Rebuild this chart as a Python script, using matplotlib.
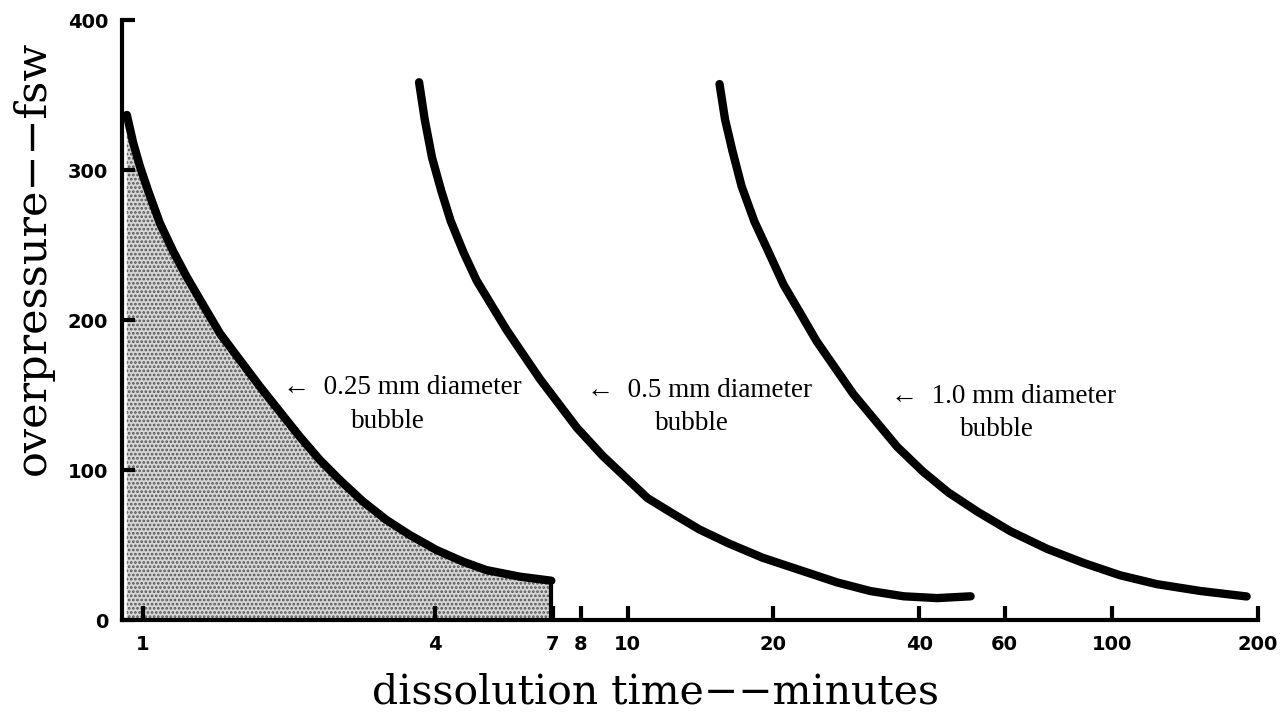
import matplotlib
matplotlib.use("Agg")
import matplotlib.pyplot as plt
from matplotlib.ticker import NullLocator

# dissolution time (min) vs overpressure (fsw)
t_025 = [0.926, 0.955, 0.986, 1.026, 1.084, 1.155, 1.230, 1.331, 1.441, 1.585,
         1.743, 1.916, 2.107, 2.317, 2.548, 2.847, 3.180, 3.552, 4.032, 4.575,
         5.111, 5.99, 6.96]
p_025 = [336.7, 317.8, 302.2, 285.6, 264.4, 245.6, 228.9, 210, 191.1, 173.3,
         155.6, 138.9, 122.2, 106.7, 93.3, 78.9, 66.7, 56.7, 46.7, 38.9,
         33.3, 28.9, 26.2]

t_05 = [3.713, 3.813, 3.949, 4.128, 4.314, 4.587, 4.881, 5.239, 5.622, 6.085,
        6.589, 7.195, 7.863, 8.894, 9.888, 10.99, 12.43, 14.08, 16.21, 19.0,
        22.67, 27.04, 31.7, 37.15, 43.56, 51.05]
p_05 = [358.5, 333.9, 308.2, 285.9, 266.1, 245, 226.3, 209.9, 193.6, 177.2,
        160.8, 144.5, 128.1, 109.3, 95.3, 81.3, 70.7, 60.3, 50.9, 41.5,
        33.3, 25.1, 19.3, 15.8, 14.6, 15.8]

t_10 = [15.48, 15.89, 16.46, 17.19, 18.27, 19.59, 20.99, 22.71, 24.55, 26.78,
        29.22, 32.43, 36.0, 40.65, 45.93, 52.8, 61.73, 73.45, 87.37, 103.9,
        123.7, 152.4, 189.5]
p_10 = [357.3, 333.8, 312.7, 289.2, 265.7, 244.6, 223.5, 204.7, 185.9, 168.3,
        150.7, 133.1, 115.5, 99.1, 85, 72.1, 59.1, 47.4, 38, 29.8,
        23.9, 19.3, 15.7]

xticks = [1, 4, 7, 8, 10, 20, 40, 60, 100, 200]
xticklabels = ["1", "4", "7", "8", "10", "20", "40", "60", "100", "200"]
yticks = [0, 100, 200, 300, 400]

SERIF = ["DejaVu Serif"]
TIMES = ["Liberation Serif", "DejaVu Serif"]

fig = plt.figure(figsize=(12.83, 7.15), dpi=100)
ax = fig.add_axes([122 / 1283, 95 / 715, 1136 / 1283, 600 / 715])

# stippled region under the 0.25 mm curve
plt.rcParams["hatch.linewidth"] = 1.3
ax.fill_between(t_025, p_025, 0, facecolor="#d6d6d6", edgecolor="#555555",
                hatch="....", linewidth=0, zorder=1)
ax.plot([t_025[-1], t_025[-1]], [p_025[-1], 0], color="black", lw=3, zorder=3)

for t, p in [(t_025, p_025), (t_05, p_05), (t_10, p_10)]:
    ax.plot(t, p, color="black", lw=6, solid_capstyle="round",
            solid_joinstyle="round", zorder=3)

ax.set_xscale("log")
ax.set_xlim(0.905, 200)
ax.set_ylim(0, 400)
ax.set_xticks(xticks)
ax.set_xticklabels(xticklabels, fontsize=14, fontweight="heavy")
ax.xaxis.set_minor_locator(NullLocator())
ax.set_yticks(yticks)
ax.set_yticklabels([str(v) for v in yticks], fontsize=14, fontweight="heavy")

for s in ["top", "right"]:
    ax.spines[s].set_visible(False)
for s in ["left", "bottom"]:
    ax.spines[s].set_linewidth(3)
ax.tick_params(axis="x", direction="in", length=10, width=3, pad=11)
ax.tick_params(axis="y", direction="in", length=9, width=3, pad=10)

# curve labels
lab = dict(family=TIMES, fontsize=19.5, va="center")
ax.text(1.944, 154.7, "\u2190  0.25 mm diameter", ha="left", **lab)
ax.text(3.2, 132, "bubble", ha="center", **lab)
ax.text(8.23, 152.7, "\u2190  0.5 mm diameter", ha="left", **lab)
ax.text(13.6, 131, "bubble", ha="center", **lab)
ax.text(35.0, 149, "\u2190  1.0 mm diameter", ha="left", **lab)
ax.text(57.7, 127, "bubble", ha="center", **lab)

fig.text(655 / 1283, 1 - 703 / 715, "dissolution time\u2212\u2212minutes",
         family=SERIF, fontsize=29.5, ha="center", va="baseline")
fig.text(33 / 1283, 1 - 258 / 715, "overpressure\u2212\u2212fsw",
         family=SERIF, fontsize=31, rotation=90, ha="center", va="center")

fig.savefig("out.png", dpi=100, facecolor="white")
